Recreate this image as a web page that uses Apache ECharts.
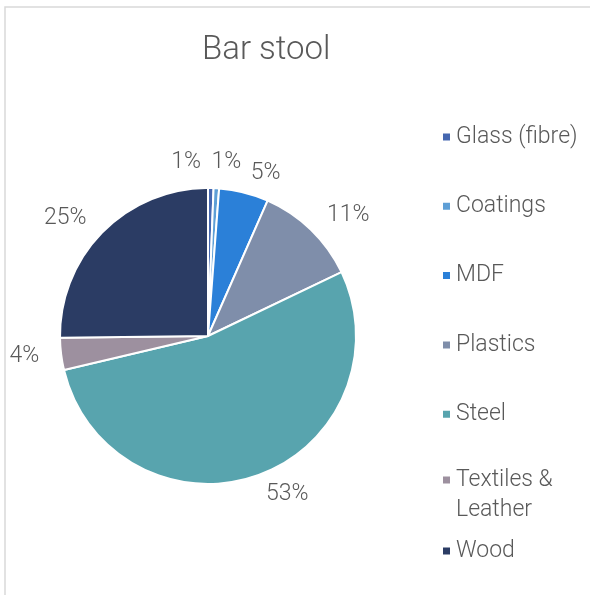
<!DOCTYPE html>
<html>
<head>
    <meta charset="utf-8">
    <title>Bar stool</title>
    <script src="https://cdn.jsdelivr.net/npm/echarts@6/dist/echarts.min.js"></script>
    <style>
        html, body { margin: 0; padding: 0; background: #fff; }
        #main { width: 590px; height: 595px; }
    </style>
</head>
<body>
    <div id="main"></div>
    <script>
        // materials and their share of the bar stool (%)
        var materials = ['Glass (fibre)', 'Coatings', 'MDF', 'Plastics', 'Steel', 'Textiles & Leather', 'Wood'];
        var shares = [0.6, 0.6, 5.4, 11.3, 53.4, 3.5, 25.2];
        var colors = ['#4567b0', '#5e9fd6', '#2b80d8', '#7f8eaa', '#58a4ae', '#9d909f', '#2b3c64'];

        var textColor = '#595959';
        var font = 'Roboto, "Liberation Sans", Arial, sans-serif';

        var pieData = materials.map(function (name, i) {
            return { name: name, value: shares[i], itemStyle: { color: colors[i] } };
        });

        // three legend blocks so the wrapped entry doesn't push Wood down
        function makeLegend(names, top) {
            return {
                orient: 'vertical',
                left: 436,
                top: top,
                icon: 'rect',
                itemWidth: 9,
                itemHeight: 9,
                itemGap: 39.3,
                selectedMode: false,
                data: names,
                // empty first line keeps the marker level with "Textiles &"
                formatter: function (name) {
                    return name === 'Textiles & Leather' ? '\nTextiles &\nLeather' : name;
                },
                textStyle: {
                    fontFamily: font,
                    fontWeight: 300,
                    fontSize: 23,
                    color: textColor,
                    lineHeight: 30
                }
            };
        }

        var myChart = echarts.init(document.getElementById('main'));
        var option = {
            backgroundColor: '#fff',
            animation: false,
            title: {
                text: 'Bar stool',
                left: 197,
                top: 29,
                textStyle: { fontFamily: font, fontWeight: 300, fontSize: 33, color: textColor }
            },
            legend: [
                makeLegend(materials.slice(0, 5), 117),
                makeLegend([materials[5]], 430),
                makeLegend([materials[6]], 531)
            ],
            graphic: [{
                // chart area border (only left/top are visible)
                type: 'rect',
                silent: true,
                shape: { x: 5, y: 7, width: 1000, height: 1000 },
                style: { fill: 'none', stroke: '#d9d9d9', lineWidth: 1.5 }
            }],
            series: [{
                type: 'pie',
                center: [208, 336],
                radius: 148,
                startAngle: 90,
                clockwise: true,
                avoidLabelOverlap: false,
                itemStyle: { borderColor: '#fff', borderWidth: 2 },
                label: {
                    show: true,
                    position: 'outside',
                    distanceToLabelLine: 2,
                    fontFamily: font,
                    fontWeight: 300,
                    fontSize: 23,
                    color: textColor,
                    formatter: function (p) {
                        return Math.round(p.percent) + '%';
                    }
                },
                labelLine: { show: false, length: 20, length2: 0 },
                // nudge the two tiny slices' labels apart like the original
                labelLayout: function (p) {
                    if (p.dataIndex === 0) return { dx: -42, dy: -6 };
                    if (p.dataIndex === 1) return { dx: -8, dy: -6 };
                    return {};
                },
                emphasis: { scale: false },
                data: pieData
            }]
        };
        myChart.setOption(option);
    </script>
</body>
</html>
